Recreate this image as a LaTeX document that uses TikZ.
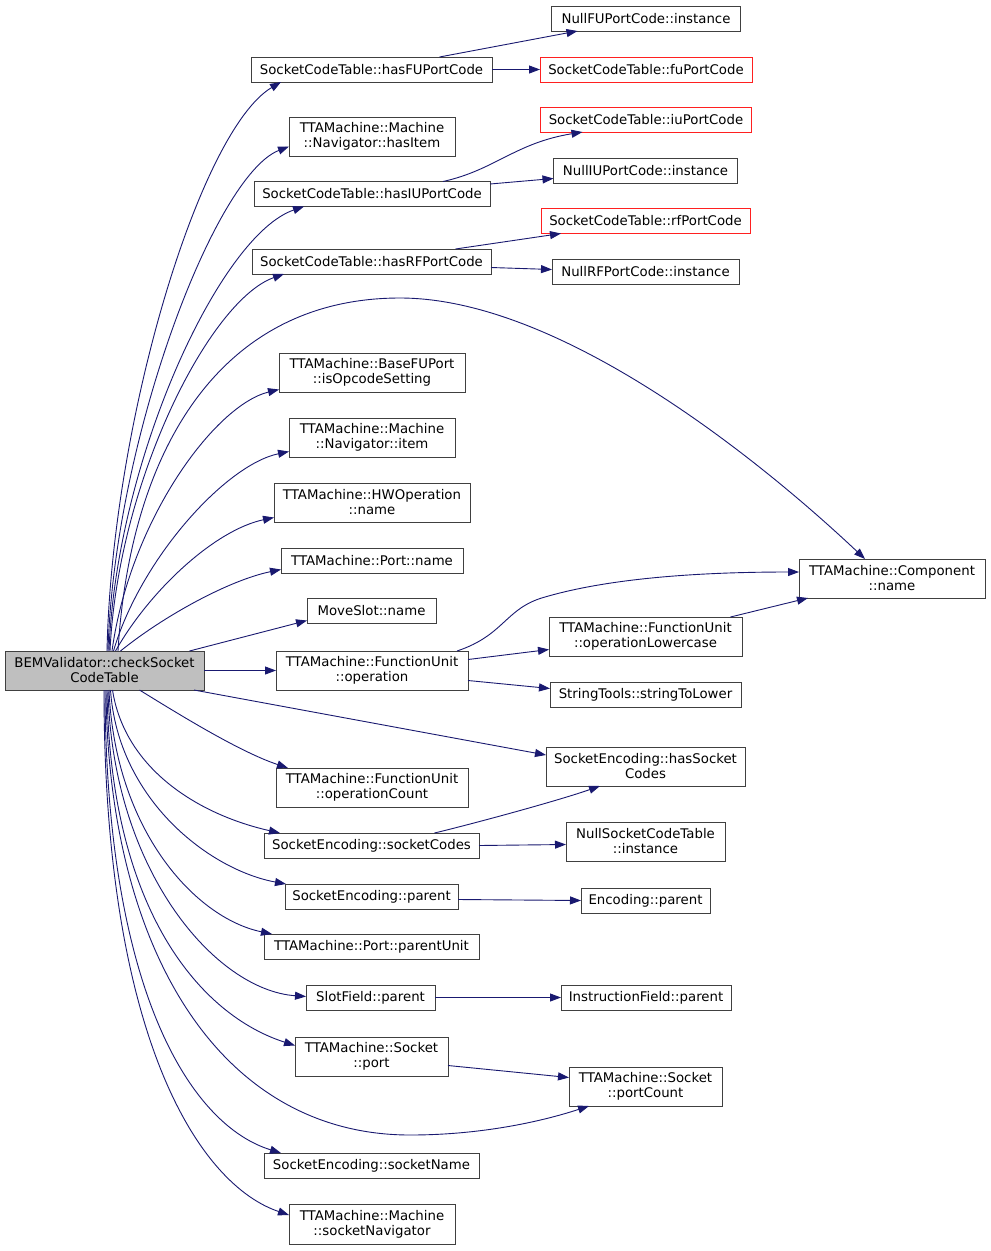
\documentclass[tikz,border=0pt]{standalone}
\usepackage{fontspec}
\setmainfont{DejaVu Sans}
\usetikzlibrary{arrows.meta,calc}
\definecolor{edgecol}{HTML}{191970}
\definecolor{rootfill}{HTML}{BFBFBF}
\definecolor{boxline}{HTML}{404040}
\definecolor{redline}{HTML}{FF2020}
\tikzset{
  box/.style={draw=boxline, line width=0.9pt, inner sep=0pt, outer sep=0pt, align=center, fill=white,
    font=\fontsize{13.3}{15}\selectfont},
  redbox/.style={box, draw=redline},
  rootbox/.style={box, fill=rootfill},
  edge/.style={draw=edgecol, line width=0.9pt, -{Triangle[length=11pt,width=8pt]}}
}
\begin{document}
\begin{tikzpicture}[x=1pt,y=-1pt]
\useasboundingbox[fill=white] (0,0) rectangle (991,1251);
% root
\node[rootbox, minimum width=199, minimum height=39] (root) at (104.5,670.5) {BEMValidator::checkSocket\\CodeTable};
% middle column
\node[box, minimum width=241, minimum height=25] (hasFU) at (371.5,69.5) {SocketCodeTable::hasFUPortCode};
\node[box, minimum width=166, minimum height=39] (hasItem) at (372,136.5) {TTAMachine::Machine\\::Navigator::hasItem};
\node[box, minimum width=236, minimum height=25] (hasIU) at (372,194) {SocketCodeTable::hasIUPortCode};
\node[box, minimum width=239, minimum height=25] (hasRF) at (371.5,261.5) {SocketCodeTable::hasRFPortCode};
\node[box, minimum width=186, minimum height=39] (isOp) at (372,372.5) {TTAMachine::BaseFUPort\\::isOpcodeSetting};
\node[box, minimum width=166, minimum height=39] (navItem) at (372,437.5) {TTAMachine::Machine\\::Navigator::item};
\node[box, minimum width=196, minimum height=39] (hwop) at (372,502.5) {TTAMachine::HWOperation\\::name};
\node[box, minimum width=182, minimum height=25] (portName) at (372,560.5) {TTAMachine::Port::name};
\node[box, minimum width=129, minimum height=25] (moveSlot) at (371.5,610.5) {MoveSlot::name};
\node[box, minimum width=192, minimum height=39] (fuOp) at (372,670.5) {TTAMachine::FunctionUnit\\::operation};
\node[box, minimum width=192, minimum height=39] (opCount) at (372,787.5) {TTAMachine::FunctionUnit\\::operationCount};
\node[box, minimum width=215, minimum height=25] (sockCodes) at (371.5,845.5) {SocketEncoding::socketCodes};
\node[box, minimum width=173, minimum height=25] (seParent) at (371.5,896.5) {SocketEncoding::parent};
\node[box, minimum width=215, minimum height=25] (parentUnit) at (371.5,946.5) {TTAMachine::Port::parentUnit};
\node[box, minimum width=129, minimum height=25] (slotField) at (370.5,997.5) {SlotField::parent};
\node[box, minimum width=153, minimum height=39] (sockPort) at (371.5,1056.5) {TTAMachine::Socket\\::port};
\node[box, minimum width=215, minimum height=25] (sockName) at (371.5,1165.5) {SocketEncoding::socketName};
\node[box, minimum width=166, minimum height=40] (sockNav) at (372,1224) {TTAMachine::Machine\\::socketNavigator};
% right column
\node[box, minimum width=189, minimum height=25] (nullFU) at (646,18.5) {NullFUPortCode::instance};
\node[redbox, minimum width=212, minimum height=25] (fuPC) at (646,69.5) {SocketCodeTable::fuPortCode};
\node[redbox, minimum width=211, minimum height=25] (iuPC) at (646,119.5) {SocketCodeTable::iuPortCode};
\node[box, minimum width=184, minimum height=25] (nullIU) at (645.5,170.5) {NullIUPortCode::instance};
\node[redbox, minimum width=209, minimum height=25] (rfPC) at (645.5,221) {SocketCodeTable::rfPortCode};
\node[box, minimum width=187, minimum height=25] (nullRF) at (645.5,271.5) {NullRFPortCode::instance};
\node[box, minimum width=186, minimum height=39] (comp) at (892,578.5) {TTAMachine::Component\\::name};
\node[box, minimum width=193, minimum height=39] (opLower) at (645.5,636.5) {TTAMachine::FunctionUnit\\::operationLowercase};
\node[box, minimum width=191, minimum height=25] (strLower) at (645.5,694.5) {StringTools::stringToLower};
\node[box, minimum width=199, minimum height=39] (hasSC) at (645.5,766.5) {SocketEncoding::hasSocket\\Codes};
\node[box, minimum width=159, minimum height=39] (nullSCT) at (645.5,841.5) {NullSocketCodeTable\\::instance};
\node[box, minimum width=129, minimum height=25] (encParent) at (645.5,900.5) {Encoding::parent};
\node[box, minimum width=170, minimum height=25] (instrField) at (646,997.5) {InstructionField::parent};
\node[box, minimum width=153, minimum height=39] (portCount) at (645.5,1086.5) {TTAMachine::Socket\\::portCount};
% edges from root (upwards)
\draw[edge] ($(root.north)+(2.5,0)$) .. controls (112,420) and (200,130) .. ($(hasFU.south west)+(30,0)$);
\draw[edge] ($(root.north)+(3.5,0)$) .. controls (114,440) and (215,175) .. ($(hasItem.west)+(0,10)$);
\draw[edge] ($(root.north)+(4.5,0)$) .. controls (116,460) and (220,235) .. ($(hasIU.south west)+(50,0)$);
\draw[edge] ($(root.north)+(5.5,0)$) .. controls (118,480) and (210,300) .. ($(hasRF.south west)+(32,0)$);
\draw[edge] ($(root.north)+(13.5,0)$) .. controls (130,450) and (220,298) .. (400,298) .. controls (560,298) and (760,460) .. ($(comp.north)+(-27,0)$);
\draw[edge] ($(root.north)+(7.5,0)$) .. controls (130,520) and (215,405) .. ($(isOp.west)+(0,17)$);
\draw[edge] ($(root.north)+(9,0)$) .. controls (140,560) and (225,465) .. ($(navItem.west)+(0,14)$);
\draw[edge] ($(root.north)+(11,0)$) .. controls (150,590) and (215,530) .. ($(hwop.west)+(0,15)$);
\draw[edge] ($(root.north)+(16,0)$) .. controls (165,615) and (230,580) .. ($(portName.west)+(0,9)$);
\draw[edge] ($(root.north)+(85,0)$) -- ($(moveSlot.west)+(0,10)$);
\draw[edge] (root.east) -- (fuOp.west);
% edges from root (downwards)
\draw[edge] ($(root.south east)+(-10,0)$) -- ($(hasSC.west)+(0,-11.5)$);
\draw[edge] ($(root.south)+(35,0)$) .. controls (180,715) and (240,752) .. ($(opCount.north west)+(12,0)$);
\draw[edge] ($(root.south)+(8,0)$) .. controls (125,770) and (200,815) .. ($(sockCodes.north west)+(16,0)$);
\draw[edge] ($(root.south)+(6,0)$) .. controls (118,800) and (210,870) .. ($(seParent.north west)+(1,0)$);
\draw[edge] ($(root.south)+(4.5,0)$) .. controls (115,830) and (195,918) .. ($(parentUnit.north west)+(8,0)$);
\draw[edge] ($(root.south)+(3.5,0)$) .. controls (112,870) and (215,990) .. ($(slotField.west)+(0,-1)$);
\draw[edge] ($(root.south)+(2.5,0)$) .. controls (110,910) and (200,1015) .. ($(sockPort.west)+(0,-11)$);
\draw[edge] ($(root.south)+(1.5,0)$) .. controls (108,950) and (220,1135) .. (410,1135) .. controls (480,1135) and (540,1122) .. ($(portCount.south west)+(20,0)$);
\draw[edge] ($(root.south)+(0.5,0)$) .. controls (106,990) and (190,1125) .. ($(sockName.north west)+(17,0)$);
\draw[edge] ($(root.south)+(-0.5,0)$) .. controls (104,1040) and (200,1185) .. ($(sockNav.west)+(0,-9)$);
% second level
\draw[edge] ($(hasFU.north)+(68,0)$) -- ($(nullFU.south west)+(26,0)$);
\draw[edge] (hasFU.east) -- (fuPC.west);
\draw[edge] ($(hasIU.north)+(71,0)$) .. controls (495,170) and (515,143) .. ($(iuPC.south west)+(42,0)$);
\draw[edge] ($(hasIU.east)+(0,-10)$) -- ($(nullIU.west)+(0,8)$);
\draw[edge] ($(hasRF.north)+(84,0)$) -- ($(rfPC.south west)+(20,0)$);
\draw[edge] ($(hasRF.east)+(0,6)$) -- ($(nullRF.west)+(0,-2)$);
\draw[edge] ($(fuOp.north)+(85,0)$) .. controls (505,635) and (505,608) .. (545,597) .. controls (610,578) and (700,572) .. ($(comp.west)+(0,-6.5)$);
\draw[edge] ($(fuOp.east)+(0,-11)$) -- ($(opLower.west)+(0,13)$);
\draw[edge] ($(fuOp.east)+(0,10)$) -- ($(strLower.west)+(0,-6)$);
\draw[edge] ($(opLower.north)+(85,0)$) -- ($(comp.south west)+(9,0)$);
\draw[edge] ($(sockCodes.north)+(63,0)$) .. controls (480,822) and (560,800) .. ($(hasSC.south west)+(54,0)$);
\draw[edge] (sockCodes.east) -- ($(nullSCT.west)+(0,3)$);
\draw[edge] ($(seParent.east)+(0,3)$) -- (encParent.west);
\draw[edge] (slotField.east) -- (instrField.west);
\draw[edge] ($(sockPort.east)+(0,9)$) -- ($(portCount.west)+(0,-9)$);
\end{tikzpicture}
\end{document}
